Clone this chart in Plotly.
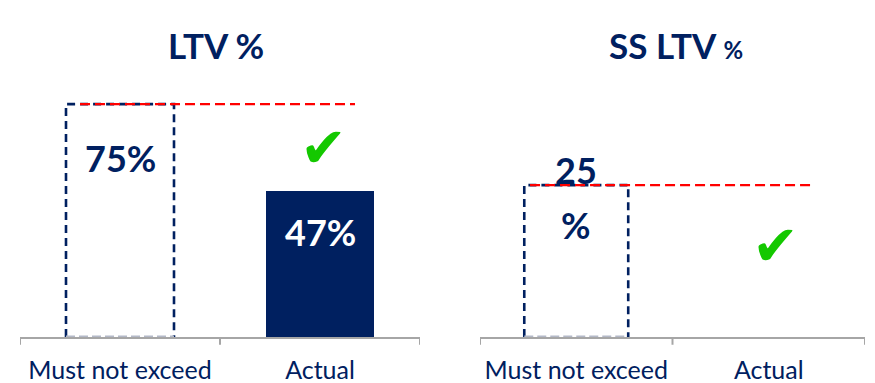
import plotly.graph_objects as go

categories = ["Must not exceed", "Actual"]
ltv_limit = 75
ltv_actual = 47
ss_ltv_limit = 25
ss_ltv_actual = 0
ltv_labels = ["75%", "47%"]
ss_labels = ["25", "%"]
titles = ["LTV %", "SS LTV %"]

NAVY = "#002060"
GRAY = "#A6A6A6"
RED = "#FF0000"
GREEN = "#14C800"
FONT = "Lato"
BW = 0.54

fig = go.Figure()

# Actual bars (category index 1)
fig.add_trace(go.Bar(x=[categories.index("Actual")], y=[ltv_actual], marker_color=NAVY, width=BW,
                     marker_line_width=0, xaxis="x", yaxis="y", showlegend=False, hoverinfo="skip"))
fig.add_trace(go.Bar(x=[categories.index("Actual")], y=[ss_ltv_actual], marker_color=NAVY, width=BW,
                     marker_line_width=0, xaxis="x2", yaxis="y2", showlegend=False, hoverinfo="skip"))


def dashed_bar(xr, yr, value):
    h = BW / 2
    fig.add_trace(go.Scatter(x=[-h, -h, h, h], y=[0, value, value, 0], mode="lines",
                             line=dict(color=NAVY, width=2.6, dash="8px,5px"),
                             xaxis=xr, yaxis=yr, showlegend=False, hoverinfo="skip"))
    fig.add_trace(go.Scatter(x=[-h, h], y=[0, 0], mode="lines",
                             line=dict(color="#B4B9C8", width=3, dash="9px,4px"),
                             xaxis=xr, yaxis=yr, showlegend=False, hoverinfo="skip"))


def limit_line(xr, yr, value, x0, x1):
    fig.add_trace(go.Scatter(x=[x0, x1], y=[value, value], mode="lines",
                             line=dict(color=RED, width=2.2, dash="10px,5px"),
                             xaxis=xr, yaxis=yr, showlegend=False, hoverinfo="skip"))


dashed_bar("x", "y", ltv_limit)
dashed_bar("x2", "y2", ss_ltv_limit)
limit_line("x", "y", ltv_limit, -0.2, 1.175)
limit_line("x2", "y2", ss_ltv_limit, -0.24, 1.23)

xax = dict(type="linear", range=[-0.5, 1.5], tickvals=[0, 1], ticktext=categories,
           showline=True, linecolor=GRAY, linewidth=2, ticks="", showgrid=False,
           zeroline=False, tickfont=dict(family=FONT, size=25, color=NAVY),
           ticklabelstandoff=10, fixedrange=True)

fig.update_layout(
    width=875, height=383,
    margin=dict(l=0, r=0, t=60, b=46),
    plot_bgcolor="white", paper_bgcolor="white",
    xaxis=dict(xax, domain=[20 / 875, 420 / 875], anchor="y"),
    xaxis2=dict(xax, domain=[480 / 875, 865 / 875], anchor="y2"),
    yaxis=dict(range=[0, 89.2], visible=False, showgrid=False, zeroline=False, anchor="x"),
    yaxis2=dict(range=[0, 45.6], visible=False, showgrid=False, zeroline=False, anchor="x2"),
)

# boundary ticks drawn on the axes
for xr, yr in [("x", "y"), ("x2", "y2")]:
    for b in [-0.5, 0.5, 1.5]:
        fig.add_shape(type="line", xref=xr, yref=yr + " domain", x0=b, x1=b, y0=0, y1=-0.028,
                      line=dict(color=GRAY, width=2))

ann = []
# titles
ann.append(dict(text="<b>" + titles[0] + "</b>", xref="x domain", yref="paper", x=0.49, y=1 + 38 / 277,
                showarrow=False, font=dict(family=FONT, size=35, color=NAVY)))
ann.append(dict(text="<b>SS LTV <span style='font-size:24px'>%</span></b>", xref="x2 domain", yref="paper",
                x=0.51, y=1 + 38 / 277, showarrow=False, font=dict(family=FONT, size=35, color=NAVY)))
# value labels
ann.append(dict(text="<b>" + ltv_labels[0] + "</b>", xref="x", yref="y", x=0, y=ltv_limit, yshift=-54,
                showarrow=False, font=dict(family=FONT, size=36, color=NAVY)))
ann.append(dict(text="<b>" + ltv_labels[1] + "</b>", xref="x", yref="y", x=1, y=ltv_actual, yshift=-41,
                showarrow=False, font=dict(family=FONT, size=36, color="white")))
ann.append(dict(text="<b>" + ss_labels[0] + "</b>", xref="x2", yref="y2", x=0, y=ss_ltv_limit, yshift=15,
                showarrow=False, font=dict(family=FONT, size=36, color=NAVY)))
ann.append(dict(text="<b>" + ss_labels[1] + "</b>", xref="x2", yref="y2", x=0, y=ss_ltv_limit, yshift=-40,
                showarrow=False, font=dict(family=FONT, size=36, color=NAVY)))
# check marks
ann.append(dict(text="✔", xref="x", yref="y", x=1.015, y=61, showarrow=False,
                font=dict(family="DejaVu Sans", size=56, color=GREEN)))
ann.append(dict(text="✔", xref="x2", yref="y2", x=1.035, y=15.1, showarrow=False,
                font=dict(family="DejaVu Sans", size=56, color=GREEN)))
fig.update_layout(annotations=ann)

fig.write_html("out.html")
